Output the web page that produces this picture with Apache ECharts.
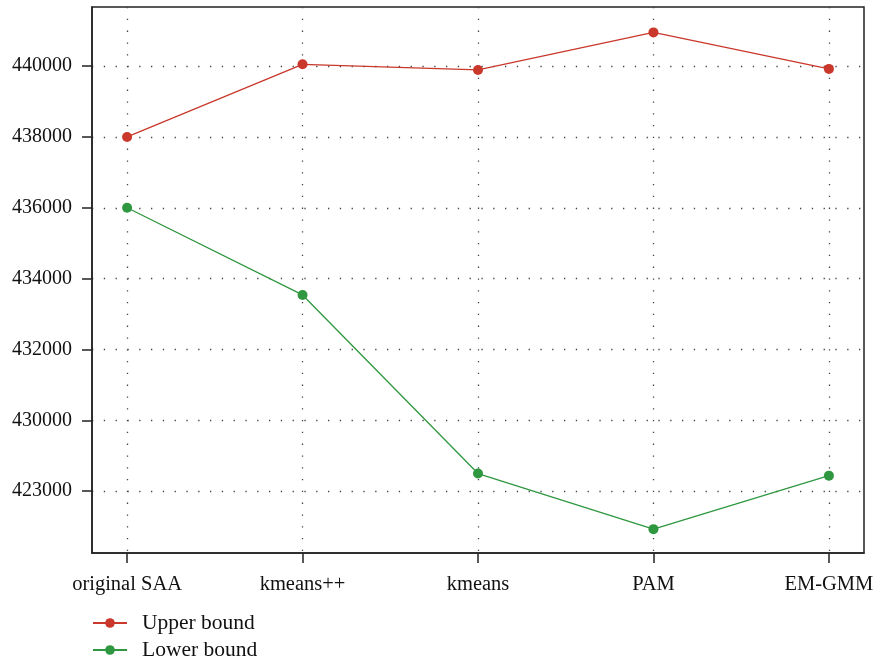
<!DOCTYPE html>
<html>
<head>
<meta charset="utf-8">
<style>html,body{margin:0;padding:0;background:#fff;}#c{width:878px;height:663px;}</style>
<script src="https://cdn.jsdelivr.net/npm/echarts@6/dist/echarts.min.js"></script>
</head>
<body>
<div id="c"></div>
<script>
const categories = ["original SAA", "kmeans++", "kmeans", "PAM", "EM-GMM"];
const upperBound = [438000, 440050, 439890, 440950, 439920];
const lowerBound = [436000, 433540, 428500, 426930, 428440];
const yTickValues = [428000, 430000, 432000, 434000, 436000, 438000, 440000];
const yTickLabels = ["423000", "430000", "432000", "434000", "436000", "438000", "440000"];
const seriesNames = ["Upper bound", "Lower bound"];

const FONT = "Liberation Serif";
const xIdx = categories.map((_, i) => i);
const toPairs = arr => arr.map((v, i) => [i, v]);

const chart = echarts.init(document.getElementById('c'), null, {renderer: 'canvas'});
chart.setOption({
  animation: false,
  backgroundColor: '#fff',
  grid: {left: 92, right: 14, top: 7, bottom: 110, show: true, borderColor: '#222', borderWidth: 1.5, backgroundColor: 'transparent'},
  xAxis: {
    type: 'value', min: -0.2, max: 4.2,
    axisLine: {show: true, onZero: false, lineStyle: {color: '#222', width: 1.5}},
    axisTick: {show: true, length: 10, customValues: xIdx, lineStyle: {color: '#222', width: 1.5}},
    axisLabel: {customValues: xIdx, formatter: v => categories[Math.round(v)] || '', color: '#111', fontFamily: FONT, fontSize: 20.5, margin: 21},
    splitLine: {show: true, lineStyle: {color: '#444', width: 1.3, type: [1.3, 10.5]}}
  },
  yAxis: {
    type: 'value', min: 426257, max: 441667,
    axisLine: {show: true, onZero: false, lineStyle: {color: '#222', width: 1.5}},
    axisTick: {show: true, length: 10, customValues: yTickValues, lineStyle: {color: '#222', width: 1.5}},
    axisLabel: {customValues: yTickValues, formatter: v => yTickLabels[yTickValues.indexOf(v)] || '', color: '#111', fontFamily: FONT, fontSize: 20, margin: 20},
    splitLine: {show: true, lineStyle: {color: '#444', width: 1.3, type: [1.3, 10.5]}}
  },
  legend: {
    orient: 'vertical', left: 92, top: 612, padding: 0,
    itemWidth: 34, itemHeight: 12, itemGap: 5,
    textStyle: {color: '#111', fontFamily: FONT, fontSize: 21.5, padding: [0, 0, 0, 10]},
    data: seriesNames
  },
  series: [
    {name: seriesNames[0], type: 'line', data: toPairs(upperBound), symbol: 'circle', symbolSize: 10,
     itemStyle: {color: '#c9382b'}, lineStyle: {color: '#c9382b', width: 1.3}},
    {name: seriesNames[1], type: 'line', data: toPairs(lowerBound), symbol: 'circle', symbolSize: 10,
     itemStyle: {color: '#2f973f'}, lineStyle: {color: '#2f973f', width: 1.3}}
  ]
});
</script>
</body>
</html>
